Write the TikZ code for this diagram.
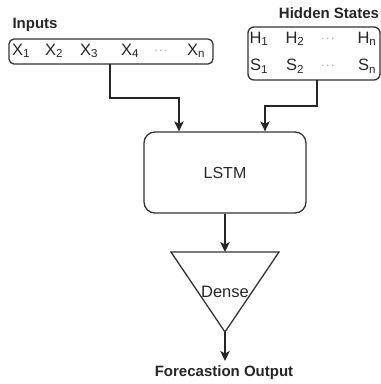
\documentclass[tikz,border=0pt]{standalone}
\usepackage{fontspec}
\setmainfont{Liberation Sans}
\usetikzlibrary{arrows.meta}
\begin{document}
\begin{tikzpicture}[x=1pt,y=-1pt,
  every node/.style={text=black!85, font=\fontsize{16}{18}\selectfont, inner sep=0pt},
  lbl/.style={font=\fontsize{15}{18}\selectfont\bfseries},
  item/.style={font=\fontsize{16.5}{18}\selectfont},
  dots/.style={text=black!60, font=\fontsize{11}{12}\selectfont},
  boxline/.style={draw=black!80, line width=1.3pt},
  conn/.style={draw=black!85, line width=1.3pt, -{Stealth[length=10pt,width=9.5pt,inset=2.5pt]}}]
\useasboundingbox (0,0) rectangle (381,384);

% input sequence
\draw[boxline, rounded corners=5pt] (9,39) rectangle (213,64);
\node[lbl] (inlbl) at (35,25) {Inputs};
\node[item] (x1) at (21,51) {X\textsubscript{1}};
\node[item] (x2) at (54,51) {X\textsubscript{2}};
\node[item] (x3) at (89,51) {X\textsubscript{3}};
\node[item] (x4) at (130,51) {X\textsubscript{4}};
\node[dots] (xd) at (161,51) {$\cdots$};
\node[item] (xn) at (196,51) {X\textsubscript{n}};
\coordinate (inbot) at (110,64);

% hidden states
\draw[boxline, rounded corners=6pt] (248,27) rectangle (380,80);
\node[lbl] (hlbl) at (329,13) {Hidden States};
\node[item] (h1) at (259,39) {H\textsubscript{1}};
\node[item] (h2) at (295,39) {H\textsubscript{2}};
\node[dots] (hd) at (328,39) {$\cdots$};
\node[item] (hn) at (367,39) {H\textsubscript{n}};
\node[item] (s1) at (259,66) {S\textsubscript{1}};
\node[item] (s2) at (295,66) {S\textsubscript{2}};
\node[dots] (sd) at (328,66) {$\cdots$};
\node[item] (sn) at (367,66) {S\textsubscript{n}};
\coordinate (hbot) at (317,80);

% LSTM cell
\node[boxline, rounded corners=11pt, minimum width=162pt, minimum height=81pt] (lstm) at (225,172.5) {LSTM};

% dense layer
\coordinate (dl) at (171,252);
\coordinate (dr) at (279,252);
\coordinate (apex) at (225,332);
\coordinate (dtop) at (225,252);
\draw[boxline, line join=miter] (dl) -- (dr) -- (apex) -- cycle;
\node[item] (dense) at (225,292) {Dense};

\node[lbl] (out) at (224,373) {Forecastion Output};
\coordinate (outtop) at (225,361);

% connectors
\draw[conn] (inbot) |- (179,98) -- (lstm.north -| 179,0);
\draw[conn] (hbot) |- (265,106) -- (lstm.north -| 265,0);
\draw[conn] (lstm.south) -- (dtop);
\draw[conn] (apex) -- (outtop);
\end{tikzpicture}
\end{document}
